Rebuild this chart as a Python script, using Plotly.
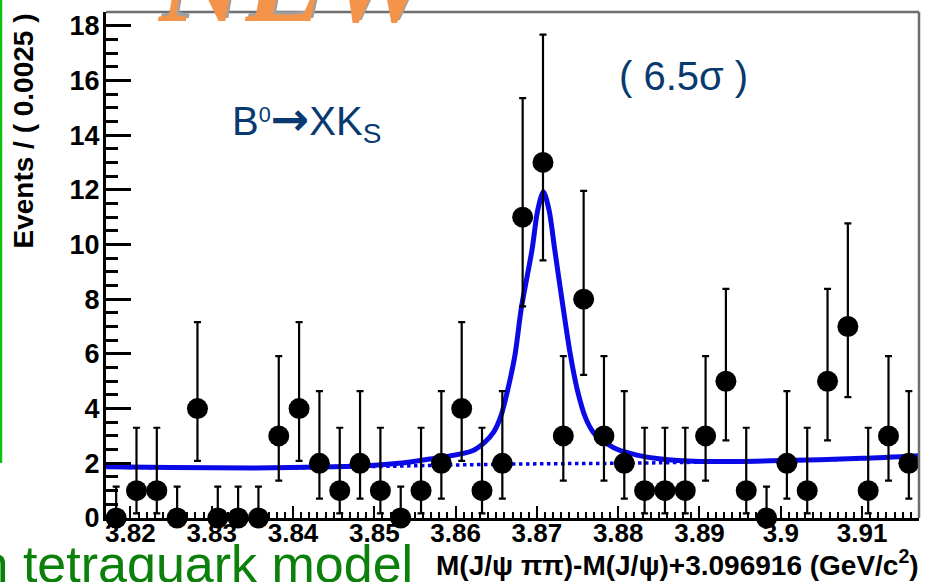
import plotly.graph_objects as go

# ---------------- data ----------------
bin_centers = [3.81825 + 0.0025 * i for i in range(40)]
counts = [0, 1, 1, 0, 4, 0, 0, 0, 3, 4,
          2, 1, 2, 1, 0, 1, 2, 4, 1, 2,
          11, 13, 3, 8, 3, 2, 1, 1, 1, 3,
          5, 1, 0, 2, 1, 5, 7, 1, 3, 2]
# asymmetric (Poisson) error bars, per count value
err_low_by_count = {0: 0.0, 1: 0.83, 2: 1.29, 3: 1.63, 4: 1.91, 5: 2.16,
                    7: 2.58, 8: 2.77, 11: 3.26, 13: 3.58}
err_high_by_count = {0: 1.15, 1: 2.30, 2: 2.64, 3: 2.92, 4: 3.16, 5: 3.38,
                     7: 3.77, 8: 3.96, 11: 4.35, 13: 4.67}

fit_x = [3.8170, 3.8250, 3.8350, 3.8450, 3.8500, 3.8530, 3.8560, 3.8590,
         3.8620, 3.8635, 3.8647, 3.8656, 3.8665, 3.8673, 3.8681, 3.8694,
         3.8701, 3.8708, 3.8715, 3.8722, 3.8732, 3.8741, 3.8750, 3.8760,
         3.8769, 3.8780, 3.8798, 3.8823, 3.8850, 3.8900, 3.9000, 3.9100,
         3.9170]
fit_y = [1.87, 1.85, 1.83, 1.87, 1.93, 2.00, 2.12, 2.25,
         2.45, 2.75, 3.15, 3.75, 4.80, 5.95, 7.70, 9.80,
         11.25, 11.93, 11.25, 9.80, 7.75, 6.00, 4.65, 3.65,
         3.15, 2.85, 2.52, 2.30, 2.17, 2.07, 2.10, 2.18,
         2.28]
bg_x = [3.8170, 3.8350, 3.8500, 3.8600, 3.8700, 3.8800, 3.8900, 3.9050, 3.9170]
bg_y = [1.86, 1.82, 1.88, 1.94, 1.98, 2.00, 2.04, 2.12, 2.26]

x_tick_vals = [3.82, 3.83, 3.84, 3.85, 3.86, 3.87, 3.88, 3.89, 3.90, 3.91]
x_tick_text = ["3.82", "3.83", "3.84", "3.85", "3.86", "3.87", "3.88", "3.89", "3.9", "3.91"]
y_tick_vals = [0, 2, 4, 6, 8, 10, 12, 14, 16, 18]

x_title = "M(J/ψ ππ)-M(J/ψ)+3.096916 (GeV/c<sup>2</sup>)"
y_title = "Events / ( 0.0025 )"
label_decay = ("B<span style=\"font-size:31px\"><sup>0</sup></span>"
               "<span style=\"font-family:'DejaVu Sans';font-weight:bold;font-size:46px\">→</span>"
               "XK<sub>S</sub>")
label_signif = "( 6.5σ )"
label_green = "in tetraquark model"
label_logo = "NEW"

err_lo = [err_low_by_count[c] for c in counts]
err_hi = [err_high_by_count[c] for c in counts]

# ---------------- layout geometry ----------------
W, H = 925, 582
L, R, T, B = 106, 6, 12, 64
PW, PH = W - L - R, H - T - B


def px(xpix):
    return (xpix - L) / PW


def py(ypix):
    return (H - B - ypix) / PH


BOLD = dict(family="Liberation Sans, Arial, sans-serif", weight="bold", color="black")
BLUE_TXT = "#083a70"

fig = go.Figure()

fig.add_trace(go.Scatter(
    x=bg_x, y=bg_y, mode="lines", line=dict(color="#0000ee", width=3.5, dash="dot", shape="spline"),
    hoverinfo="skip", showlegend=False))
fig.add_trace(go.Scatter(
    x=fit_x, y=fit_y, mode="lines", line=dict(color="#0a0ae6", width=5, shape="spline", smoothing=0.8),
    hoverinfo="skip", showlegend=False))
fig.add_trace(go.Scatter(
    x=bin_centers, y=counts, mode="markers",
    marker=dict(color="black", size=21, line=dict(width=0)),
    error_y=dict(type="data", symmetric=False, array=err_hi, arrayminus=err_lo,
                 color="black", thickness=2.2, width=3.5),
    cliponaxis=False, showlegend=False))

fig.update_xaxes(
    range=[3.817, 3.917], showgrid=False, zeroline=False,
    showline=True, linecolor="black", linewidth=3,
    ticks="inside", ticklen=12, tickwidth=2, tickcolor="black",
    tickvals=x_tick_vals, ticktext=x_tick_text,
    tickfont=dict(size=26, **BOLD), ticklabelstandoff=-10,
    minor=dict(ticks="inside", ticklen=6, tickwidth=2, tickcolor="black", dtick=0.001, showgrid=False),
    automargin=False)
fig.update_yaxes(
    range=[0, 18.5], showgrid=False, zeroline=False,
    showline=True, linecolor="black", linewidth=3,
    ticks="inside", ticklen=25, tickwidth=2.5, tickcolor="black",
    tickvals=y_tick_vals, tickfont=dict(size=27, **BOLD), ticklabelstandoff=-2,
    minor=dict(ticks="inside", ticklen=12, tickwidth=2.5, tickcolor="black", dtick=0.5, showgrid=False),
    automargin=False)

shapes = [
    dict(type="line", xref="paper", yref="paper", x0=0, x1=1, y0=1, y1=1,
         line=dict(color="#6e6e6e", width=2.5)),
    dict(type="line", xref="paper", yref="paper", x0=1, x1=1, y0=0, y1=1,
         line=dict(color="#6e6e6e", width=2.5)),
    dict(type="line", xref="paper", yref="paper", x0=px(1), x1=px(1), y0=py(463), y1=py(-5),
         line=dict(color="#10c010", width=2.5)),
]

annotations = [
    # logo (shadow + face), cut off by the top edge
    dict(text=label_logo, xref="paper", yref="paper", x=px(301), y=py(46), xanchor="center", yanchor="bottom",
         showarrow=False, font=dict(family="Liberation Serif, serif", size=120, color="#a0a0a0",
                                    weight="bold", style="italic")),
    dict(text=label_logo, xref="paper", yref="paper", x=px(298), y=py(49), xanchor="center", yanchor="bottom",
         showarrow=False, font=dict(family="Liberation Serif, serif", size=120, color="#f4944a",
                                    weight="bold", style="italic")),
    dict(text=label_decay, xref="paper", yref="paper", x=px(230), y=py(120), xanchor="left", yanchor="middle",
         showarrow=False, font=dict(family="Liberation Sans, Arial, sans-serif", size=40, color=BLUE_TXT)),
    dict(text=label_signif, xref="paper", yref="paper", x=px(683), y=py(76), xanchor="center", yanchor="middle",
         showarrow=False, font=dict(family="Liberation Sans, Arial, sans-serif", size=40, color=BLUE_TXT)),
    dict(text=y_title, xref="paper", yref="paper", x=px(23), y=py(12), xanchor="center", yanchor="top",
         textangle=-90, showarrow=False, font=dict(size=28, **BOLD)),
    dict(text=x_title, xref="paper", yref="paper", x=px(921), y=py(563), xanchor="right", yanchor="middle",
         showarrow=False, font=dict(size=28, **BOLD)),
    dict(text=label_green, xref="paper", yref="paper", x=px(415), y=py(533), xanchor="right", yanchor="top",
         showarrow=False, font=dict(family="Liberation Sans, Arial, sans-serif", size=52, color="#0b800b")),
]

fig.update_layout(
    width=W, height=H, margin=dict(l=L, r=R, t=T, b=B, pad=0),
    paper_bgcolor="white", plot_bgcolor="white",
    shapes=shapes, annotations=annotations, showlegend=False)

fig.write_html("out.html", config={"displayModeBar": False},
               post_script="document.body.style.margin='0px';")
